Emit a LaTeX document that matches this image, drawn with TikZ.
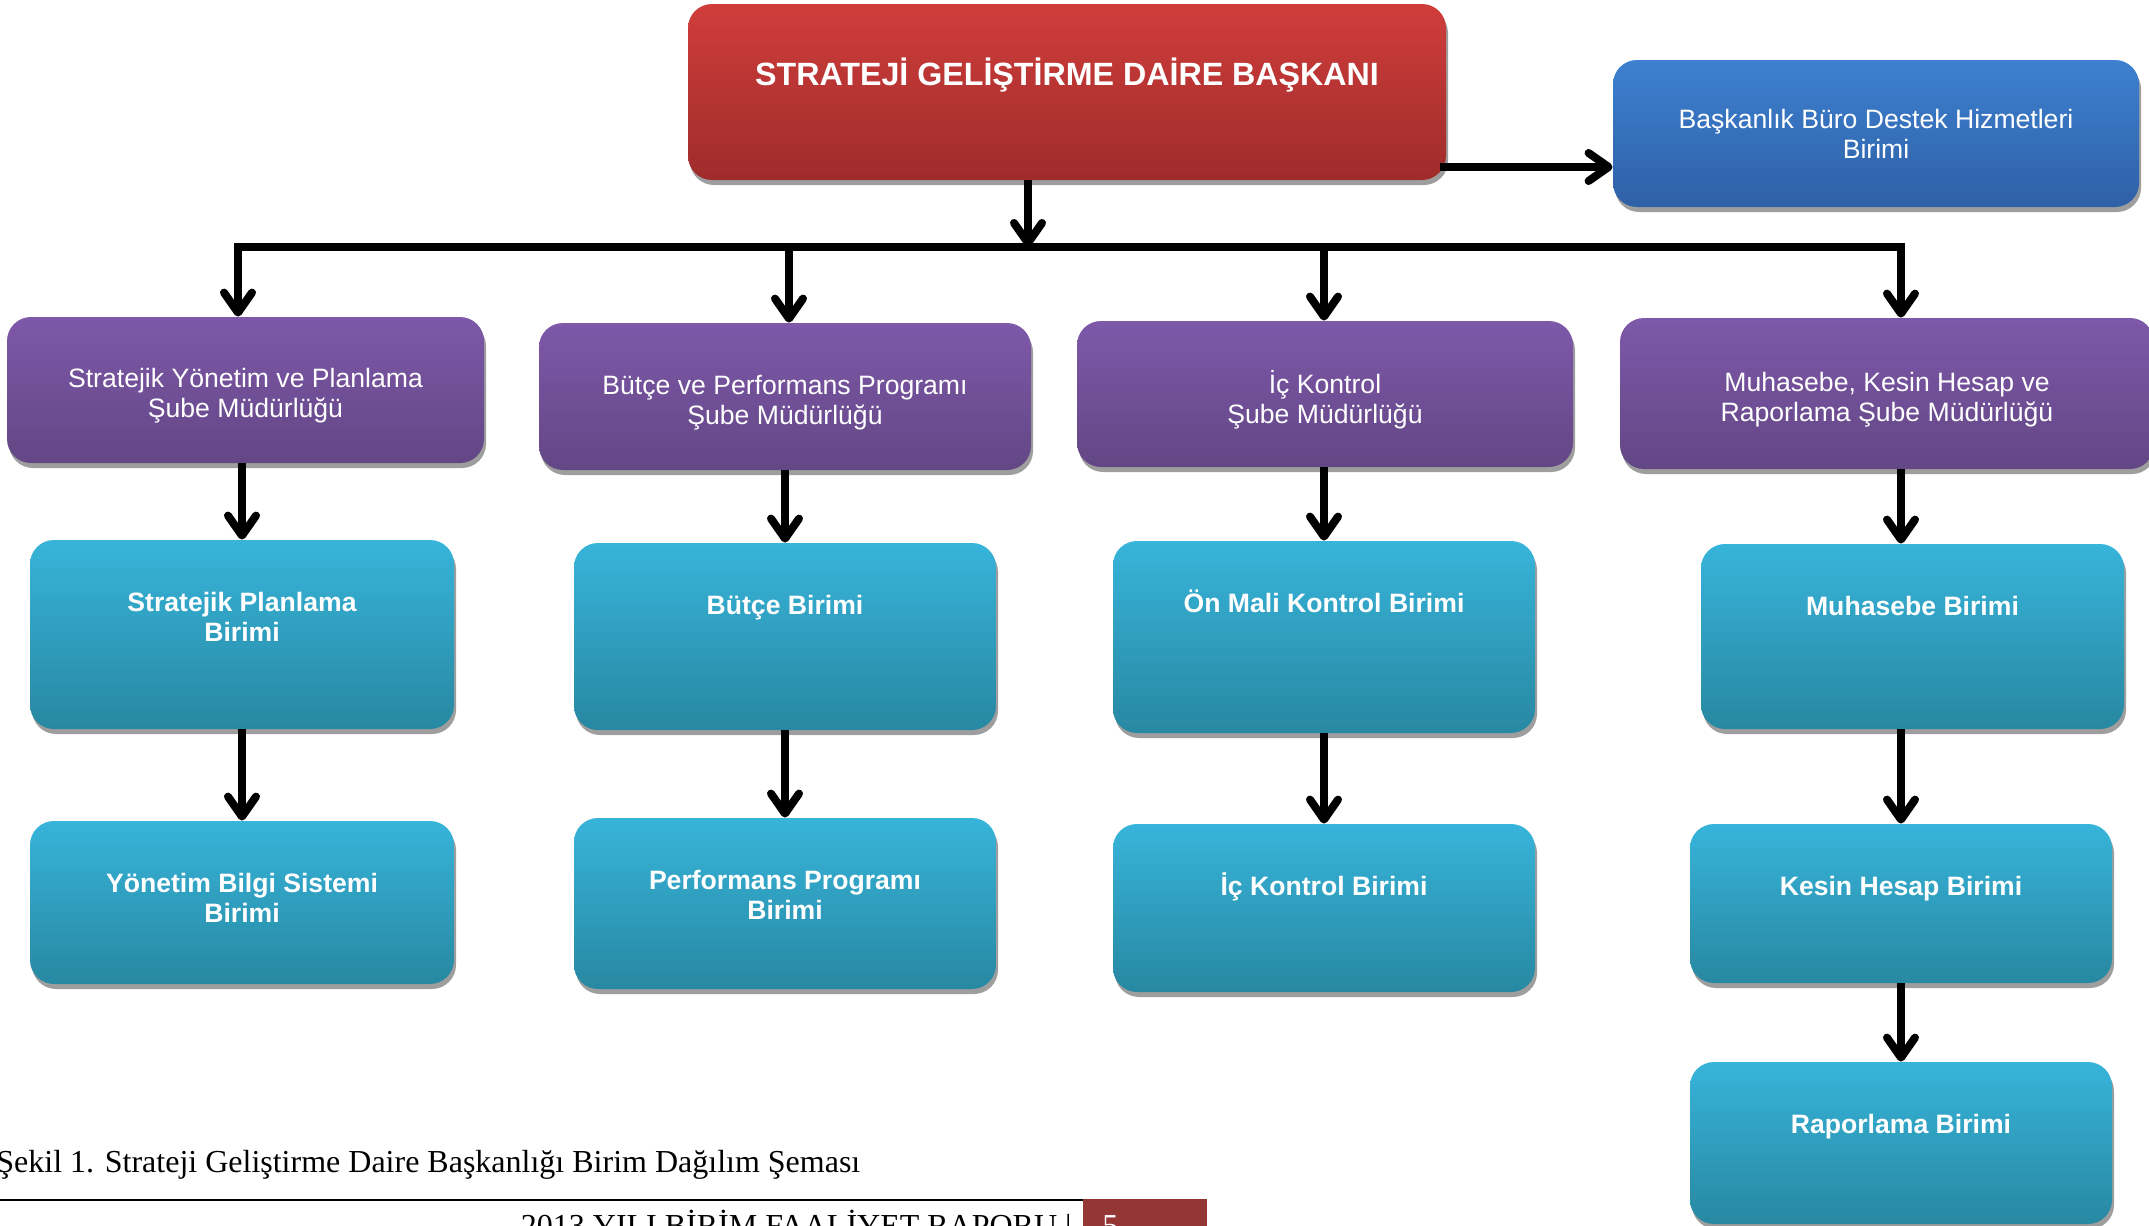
\documentclass[tikz,border=0pt]{standalone}
\usepackage{fontspec}
\setmainfont{Liberation Serif}
\newfontfamily\arialfont{Liberation Sans}
\usetikzlibrary{arrows.meta}
\usetikzlibrary{shadows}

\definecolor{redtop}{HTML}{D03D3B}
\definecolor{redbot}{HTML}{9E2C2B}
\definecolor{bluetop}{HTML}{3D80D0}
\definecolor{bluebot}{HTML}{2E60A6}
\definecolor{purtop}{HTML}{7E58A9}
\definecolor{purbot}{HTML}{634785}
\definecolor{cyantop}{HTML}{37B4DA}
\definecolor{cyanbot}{HTML}{2888A2}
\definecolor{footred}{HTML}{943634}

\tikzstyle{box}=[rectangle, rounded corners=12pt, inner sep=0pt, text=white, align=center, drop shadow={shadow xshift=1pt, shadow yshift=-2.5pt, fill=black!38, opacity=1}]
\tikzstyle{chief}=[box, top color=redtop, bottom color=redbot]
\tikzstyle{office}=[box, top color=bluetop, bottom color=bluebot, font=\arialfont\fontsize{13.3}{15}\selectfont]
\tikzstyle{dept}=[box, top color=purtop, bottom color=purbot]
\tikzstyle{depttext}=[text=white, align=center, inner sep=0pt, yshift=-3pt, font=\arialfont\fontsize{13.3}{15}\selectfont]
\tikzstyle{unit}=[box, top color=cyantop, bottom color=cyanbot]
\tikzstyle{unittext}=[text=white, align=center, inner sep=0pt, anchor=base, yshift=-36pt, font=\arialfont\bfseries\fontsize{13.3}{15}\selectfont]
\tikzstyle{unittextb}=[unittext, yshift=-15pt]
\tikzstyle{bus}=[line width=4pt, preaction={draw=black!32, transform canvas={shift={(1pt,-1pt)}}}]
\tikzstyle{link}=[bus, -{Straight Barb[length=10pt,width=14pt,round]}]

\begin{document}
\begin{tikzpicture}[x=0.5pt, y=-0.5pt]
		\useasboundingbox (0,0) rectangle (2149,1226);
		\node[chief, minimum width=379pt, minimum height=88pt, label={[unittext, yshift=-5pt, font=\arialfont\bfseries\fontsize{16.1}{19}\selectfont]north:{STRATEJİ GELİŞTİRME DAİRE BAŞKANI}}] (top) at (1067,92) {};
		\node[office, minimum width=263pt, minimum height=73.5pt] (buro) at (1876,133.5) {Başkanlık Büro Destek Hizmetleri\\Birimi};
		\node[dept, minimum width=238.5pt, minimum height=73pt, label={[depttext]center:{Stratejik Yönetim ve Planlama\\Şube Müdürlüğü}}] (p1) at (245.5,390) {};
		\node[dept, minimum width=246pt, minimum height=73.5pt, label={[depttext]center:{Bütçe ve Performans Programı\\Şube Müdürlüğü}}] (p2) at (785,396.5) {};
		\node[dept, minimum width=248pt, minimum height=73pt, label={[depttext]center:{İç Kontrol\\Şube Müdürlüğü}}] (p3) at (1325,394) {};
		\node[dept, minimum width=267pt, minimum height=75.5pt, label={[depttext]center:{Muhasebe, Kesin Hesap ve\\Raporlama Şube Müdürlüğü}}] (p4) at (1887,393.5) {};
		\node[unit, minimum width=212pt, minimum height=94.5pt, label={[unittextb]north:{Stratejik Planlama\\Birimi}}] (c11) at (242,634.5) {};
		\node[unit, minimum width=211pt, minimum height=93.5pt, label={[unittext]north:{Bütçe Birimi}}] (c21) at (785,636.5) {};
		\node[unit, minimum width=211pt, minimum height=96pt, label={[unittext]north:{Ön Mali Kontrol Birimi}}] (c31) at (1324,637) {};
		\node[unit, minimum width=211.5pt, minimum height=92.5pt, label={[unittext]north:{Muhasebe Birimi}}] (c41) at (1912.5,636.5) {};
		\node[unit, minimum width=212pt, minimum height=81.5pt, label={[unittextb]north:{Yönetim Bilgi Sistemi\\Birimi}}] (c12) at (242,902.5) {};
		\node[unit, minimum width=211pt, minimum height=85.5pt, label={[unittextb]north:{Performans Programı\\Birimi}}] (c22) at (785,903.5) {};
		\node[unit, minimum width=211pt, minimum height=84pt, label={[unittext]north:{İç Kontrol Birimi}}] (c32) at (1324,908) {};
		\node[unit, minimum width=211pt, minimum height=79.5pt, label={[unittext]north:{Kesin Hesap Birimi}}] (c42) at (1901,903.5) {};
		\node[unit, minimum width=211pt, minimum height=81pt, label={[unittext]north:{Raporlama Birimi}}] (c43) at (1901,1143) {};
		\coordinate (hub) at (1028,247);
		\coordinate (b1) at (238,247);
		\coordinate (b2) at (789,247);
		\coordinate (b3) at (1324,247);
		\coordinate (b4) at (1901,247);
		\coordinate (rb) at (1440,167);
		\draw[link] (hub |- top.south) -- (hub);
		\draw[link] (rb) -- (rb -| buro.west);
		\draw[bus, line cap=rect] (b1) -- (b4);
		\draw[link] (b1) -- (b1 |- p1.north);
		\draw[link] (b2) -- (b2 |- p2.north);
		\draw[link] (b3) -- (b3 |- p3.north);
		\draw[link] (b4) -- (b4 |- p4.north);
		\draw[link] (c11 |- p1.south) -- (c11.north);
		\draw[link] (c11.south) -- (c12.north);
		\draw[link] (p2.south) -- (c21.north);
		\draw[link] (c21.south) -- (c22.north);
		\draw[link] (c31 |- p3.south) -- (c31.north);
		\draw[link] (c31.south) -- (c32.north);
		\draw[link] (c42 |- p4.south) -- (c42 |- c41.north);
		\draw[link] (c42 |- c41.south) -- (c42.north);
		\draw[link] (c42.south) -- (c43.north);
		\node[anchor=base west, inner sep=0pt, font=\fontsize{16}{19}\selectfont] (caption) at (-4,1172) {Şekil 1. Strateji Geliştirme Daire Başkanlığı Birim Dağılım Şeması};
		\draw[line width=1.2pt] (0,1200) -- (1083,1200);
		\fill[footred] (1083,1199) rectangle (1207,1250);
		\node[anchor=base east, inner sep=0pt, font=\fontsize{16}{19}\selectfont] (foot) at (1072,1236) {2013 YILI BİRİM FAALİYET RAPORU |};
		\node[anchor=base west, inner sep=0pt, text=white, font=\fontsize{16}{19}\selectfont] (page) at (1102,1236) {5};
\end{tikzpicture}
\end{document}
